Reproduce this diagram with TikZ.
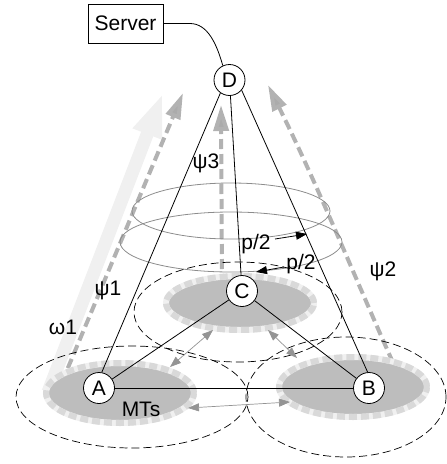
\documentclass[tikz,border=0pt]{standalone}
\usepackage{fontspec}
\setmainfont{Liberation Sans}
\usetikzlibrary{arrows.meta}

\tikzset{
  lbl/.style={font=\fontsize{21}{25}\selectfont, inner sep=0pt},
  station/.style={circle, draw, fill=white, line width=0.8pt, minimum size=31pt,
    inner sep=0pt, font=\fontsize{21}{25}\selectfont},
  srvbox/.style={draw, line width=0.8pt, minimum width=75pt, minimum height=39pt,
    inner sep=0pt, font=\fontsize{21}{25}\selectfont},
  link/.style={line width=0.8pt},
  radiorange/.style={line width=0.7pt, dash pattern=on 8pt off 4pt},
  ring/.style={line width=0.8pt, draw=black!45},
  flow/.style={line width=4pt, draw=black!30, dash pattern=on 10pt off 5pt,
    -{Triangle[length=26pt,width=15pt,fill=black!33]}},
  bigflow/.style={line width=13pt, draw=black!6,
    -{Triangle[length=44pt,width=28pt,fill=black!6]}},
  swap/.style={line width=0.7pt, draw=black!42,
    {Triangle[length=11pt,width=8pt]}-{Triangle[length=11pt,width=8pt]}},
  share/.style={line width=0.8pt, -{Triangle[length=11pt,width=8pt]}},
  cluster/.style={fill=black!26, draw=black!6, line width=6pt},
  clusteredge/.style={draw=black!15, line width=6pt, dash pattern=on 8pt off 4pt},
}

\begin{document}
\begin{tikzpicture}[x=1pt,y=-1pt]
\useasboundingbox (0,0) rectangle (447,464);

% wide light flow arrow and the dashed flows towards D
\coordinate (w0) at (48,392);
\coordinate (w1) at (163,93);
\draw[bigflow] (w0) -- (w1);

\coordinate (f1a) at (62,382);
\coordinate (f1b) at (183,93);
\draw[flow] (f1a) -- (f1b);

\coordinate (f2a) at (399,376);
\coordinate (f2b) at (268,85);
\draw[flow] (f2a) .. controls (360,290) and (320,190) .. (f2b);

\coordinate (f3a) at (222,284);
\coordinate (f3b) at (221,105);
\draw[flow] (f3a) -- (f3b);

% rings round the cone
\draw[ring] (231,211) ellipse [x radius=99pt, y radius=28pt];
\draw[ring] (231,242) ellipse [x radius=111pt, y radius=30pt];

% clusters of mobile terminals
\draw[cluster] (120,393) ellipse [x radius=74pt, y radius=30pt];
\draw[clusteredge] (120,393) ellipse [x radius=74pt, y radius=30pt];
\draw[cluster] (353,387) ellipse [x radius=74pt, y radius=30pt];
\draw[clusteredge] (353,387) ellipse [x radius=74pt, y radius=30pt];
\draw[cluster] (240,303) ellipse [x radius=74pt, y radius=27pt];
\draw[clusteredge] (240,303) ellipse [x radius=74pt, y radius=27pt];

% radio ranges
\draw[radiorange] (132,397) ellipse [x radius=116pt, y radius=51pt];
\draw[radiorange] (346,397) ellipse [x radius=100pt, y radius=60pt];
\draw[radiorange] (238,312) ellipse [x radius=104pt, y radius=50pt];

% exchanges between clusters
\coordinate (ac1) at (170,367);
\coordinate (ac2) at (213,330);
\coordinate (cb1) at (268,330);
\coordinate (cb2) at (297,358);
\coordinate (ab1) at (188,408);
\coordinate (ab2) at (290,402);
\draw[swap] (ac1) -- (ac2);
\draw[swap] (cb1) -- (cb2);
\draw[swap] (ab1) -- (ab2);

% stations
\node[station] (D) at (229.5,80) {D};
\node[station] (C) at (242,291) {C};
\node[station] (A) at (99,388) {A};
\node[station] (B) at (369,388) {B};
\node[srvbox] (S) at (125.5,23.5) {Server};

\draw[link] (S.east) -- (190,23.5) .. controls (208,23.5) and (217,45) .. (D.115);
\draw[link] (D.235) -- (A.80);
\draw[link] (D) -- (C);
\draw[link] (D.320) -- (B.95);
\draw[link] (A) -- (C);
\draw[link] (C) -- (B);
\draw[link] (A) -- (B);

% labels
\node[lbl] (l1) at (108,290) {ψ1};
\node[lbl] (lw) at (63,327) {ω1};
\node[lbl] (l3) at (206,163) {ψ3};
\node[lbl] (l2) at (383,271) {ψ2};
\node[lbl] (mt) at (141,409) {MTs};
\node[lbl] (p1) at (256,244) {p/2};
\node[lbl] (p2) at (301,264) {p/2};

\coordinate (p1t) at (307,234);
\coordinate (p2t) at (256,272);
\coordinate (p1s) at (275,239);
\coordinate (p2s) at (284,267);
\draw[share] (p1s) -- (p1t);
\draw[share] (p2s) -- (p2t);
\end{tikzpicture}
\end{document}
